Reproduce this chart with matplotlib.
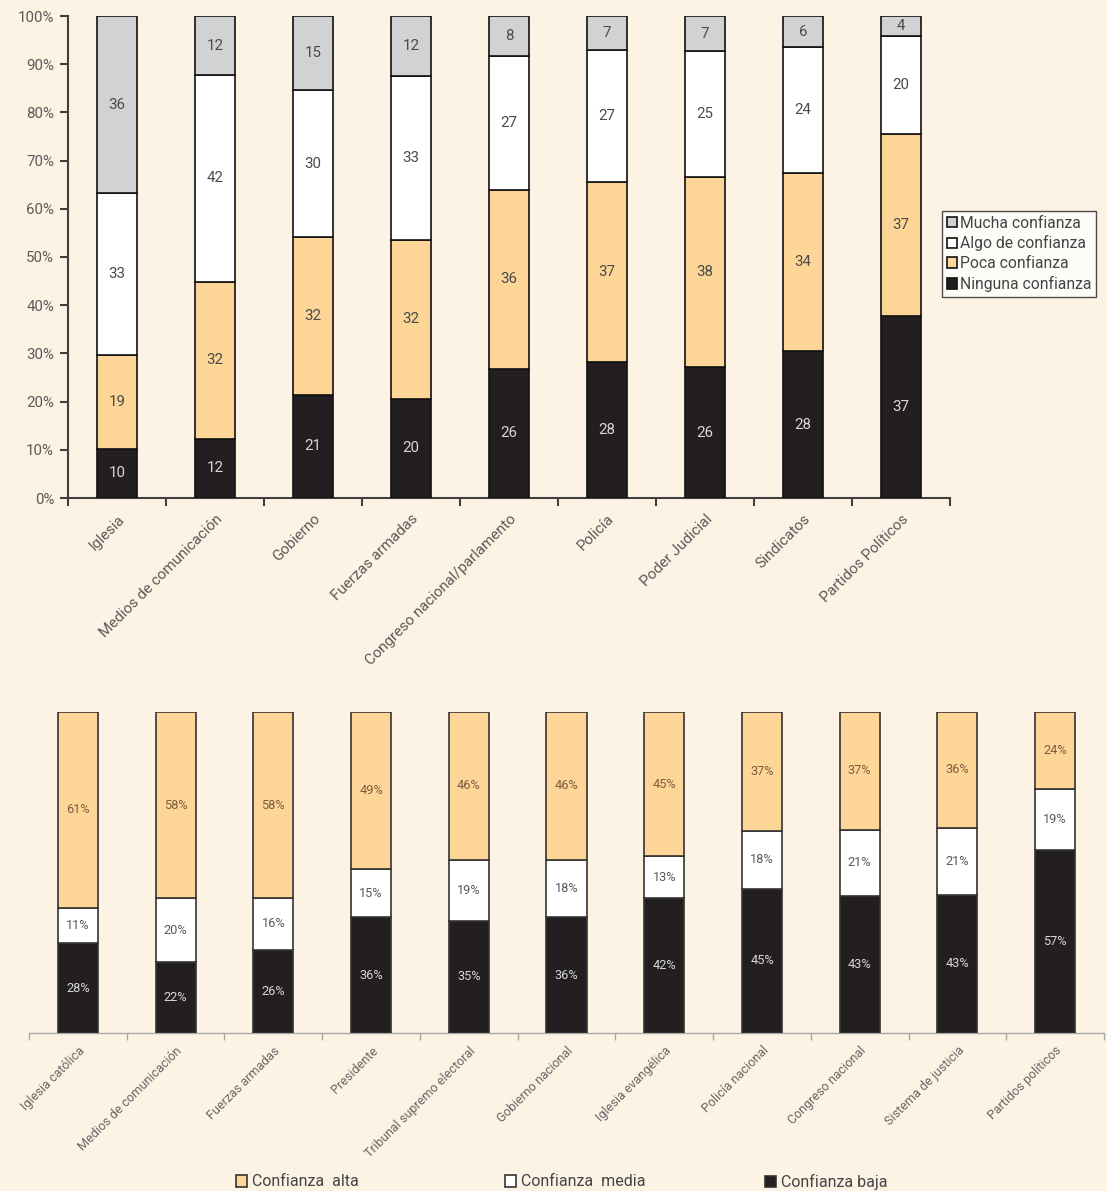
import matplotlib
matplotlib.use("Agg")
import matplotlib.pyplot as plt
import numpy as np

plt.rcParams['font.family'] = ['Roboto', 'DejaVu Sans']

# ---------------- data: top chart ----------------
top_categories = ['Iglesia', 'Medios de comunicación', 'Gobierno', 'Fuerzas armadas',
                  'Congreso nacional/parlamento', 'Policía', 'Poder Judicial',
                  'Sindicatos', 'Partidos Políticos']
top_ninguna = [10, 12, 21, 20, 26, 28, 26, 28, 37]
top_poca = [19, 32, 32, 32, 36, 37, 38, 34, 37]
top_algo = [33, 42, 30, 33, 27, 27, 25, 24, 20]
top_mucha = [36, 12, 15, 12, 8, 7, 7, 6, 4]
top_series_names = ['Ninguna confianza', 'Poca confianza', 'Algo de confianza', 'Mucha confianza']
yticks_top = [0, 10, 20, 30, 40, 50, 60, 70, 80, 90, 100]

# ---------------- data: bottom chart ----------------
bot_categories = ['Iglesia católica', 'Medios de comunicación', 'Fuerzas armadas', 'Presidente',
                  'Tribunal supremo electoral', 'Gobierno nacional', 'Iglesia evangélica',
                  'Policía nacional', 'Congreso nacional', 'Sistema de justicia',
                  'Partidos políticos']
bot_baja = [28, 22, 26, 36, 35, 36, 42, 45, 43, 43, 57]
bot_media = [11, 20, 16, 15, 19, 18, 13, 18, 21, 21, 19]
bot_alta = [61, 58, 58, 49, 46, 46, 45, 37, 37, 36, 24]
bot_series_names = ['Confianza baja', 'Confianza  media', 'Confianza  alta']

# ---------------- styles ----------------
BG = '#FDF3E5'
C_BLACK = '#231F20'
C_ORANGE = '#FDD597'
C_WHITE = '#FFFFFF'
C_GRAY = '#D1D2D4'
TXT = '#5A5A5A'

W, H = 1107, 1191
fig = plt.figure(figsize=(W / 100, H / 100), dpi=100, facecolor=BG)

# ================= TOP CHART =================
ax1 = fig.add_axes([68 / W, 1 - 498 / H, (950 - 68) / W, (498 - 16) / H])
ax1.set_facecolor(BG)
x1 = np.arange(len(top_categories))
top_stack = np.array([top_ninguna, top_poca, top_algo, top_mucha], dtype=float)
top_tot = top_stack.sum(axis=0)
top_pct = top_stack / top_tot * 100
colors_top = [C_BLACK, C_ORANGE, C_WHITE, C_GRAY]
bw = 0.41
bottom = np.zeros(len(x1))
handles_top = []
for i, (vals, raw) in enumerate(zip(top_pct, top_stack)):
    bars = ax1.bar(x1, vals, bw, bottom=bottom, color=colors_top[i],
                   edgecolor='#111111', linewidth=1.2, label=top_series_names[i], zorder=3)
    handles_top.append(bars)
    lc = '#D8D8D8' if i == 0 else '#4A4A4A'
    for xi, b, v, r in zip(x1, bottom, vals, raw):
        ax1.text(xi, b + v / 2, f'{int(r)}', ha='center', va='center',
                 fontsize=10.8, color=lc, zorder=4)
    bottom = bottom + vals

ax1.set_xlim(-0.5, len(top_categories) - 0.5)
ax1.set_ylim(0, 100)
ax1.set_yticks(yticks_top)
ax1.set_yticklabels([f'{t}%' for t in yticks_top], fontsize=10.8, color=TXT)
ax1.set_xticks(np.arange(len(top_categories) + 1) - 0.5, minor=False)
ax1.set_xticklabels([])
ax1.set_xticks(x1, minor=True)
ax1.set_xticklabels(top_categories, minor=True, rotation=45, ha='right',
                    rotation_mode='anchor', fontsize=10.8, color=TXT)
ax1.tick_params(axis='x', which='minor', length=0, pad=10)
ax1.tick_params(axis='x', which='major', length=6, width=1.5, color='#404040', direction='out')
ax1.tick_params(axis='y', length=6, width=1.5, color='#404040', direction='out', pad=4)
for s in ['top', 'right']:
    ax1.spines[s].set_visible(False)
for s in ['left', 'bottom']:
    ax1.spines[s].set_color('#404040')
    ax1.spines[s].set_linewidth(1.5)

leg1 = fig.legend(handles_top[::-1], top_series_names[::-1], loc='upper left',
                  bbox_to_anchor=(942 / W, 1 - 211 / H), fontsize=11.3,
                  frameon=True, fancybox=False, edgecolor='#222222',
                  handlelength=0.65, handleheight=0.65, handletextpad=0.2,
                  borderpad=0.3, labelspacing=0.3, borderaxespad=0)
leg1.get_frame().set_linewidth(1.0)
for t in leg1.get_texts():
    t.set_color('#444444')

# ================= BOTTOM CHART =================
ax2 = fig.add_axes([29 / W, 1 - 1033 / H, (1104 - 29) / W, (1033 - 712) / H])
ax2.set_facecolor(BG)
x2 = np.arange(len(bot_categories))
bot_stack = np.array([bot_baja, bot_media, bot_alta], dtype=float)
bot_tot = bot_stack.sum(axis=0)
bot_pct = bot_stack / bot_tot * 100
colors_bot = [C_BLACK, C_WHITE, C_ORANGE]
label_colors_bot = ['#D8D8D8', '#5A5A5A', '#7A5E3E']
bottom = np.zeros(len(x2))
handles_bot = []
for i, (vals, raw) in enumerate(zip(bot_pct, bot_stack)):
    bars = ax2.bar(x2, vals, 0.41, bottom=bottom, color=colors_bot[i],
                   edgecolor='#333333', linewidth=1.2, label=bot_series_names[i], zorder=3)
    handles_bot.append(bars)
    for xi, b, v, r in zip(x2, bottom, vals, raw):
        ax2.text(xi, b + v / 2, f'{int(r)}%', ha='center', va='center',
                 fontsize=9.2, color=label_colors_bot[i], zorder=4)
    bottom = bottom + vals

ax2.set_xlim(-0.5, len(bot_categories) - 0.5)
ax2.set_ylim(0, 100)
ax2.set_yticks([])
ax2.set_xticks(np.arange(len(bot_categories) + 1) - 0.5)
ax2.set_xticklabels([])
ax2.set_xticks(x2, minor=True)
ax2.set_xticklabels(bot_categories, minor=True, rotation=45, ha='right',
                    rotation_mode='anchor', fontsize=9.0, color='#666666')
ax2.tick_params(axis='x', which='minor', length=0, pad=8)
ax2.tick_params(axis='x', which='major', length=5, width=1.0, color='#A8A8A8', direction='out')
for s in ['top', 'right', 'left']:
    ax2.spines[s].set_visible(False)
ax2.spines['bottom'].set_color('#A8A8A8')
ax2.spines['bottom'].set_linewidth(1.0)

# bottom legend: three entries at fixed positions
leg_x = [236, 505, 765]
order = [2, 1, 0]
for px, k in zip(leg_x, order):
    lg = fig.legend([handles_bot[k]], [bot_series_names[k]], loc='center left',
                    bbox_to_anchor=(px / W, 1 - 1182 / H), fontsize=11.5,
                    frameon=False, handlelength=0.7, handleheight=0.7,
                    handletextpad=0.3, borderpad=0, borderaxespad=0)
    for t in lg.get_texts():
        t.set_color('#444444')

fig.savefig('out.png', dpi=100, facecolor=BG)
